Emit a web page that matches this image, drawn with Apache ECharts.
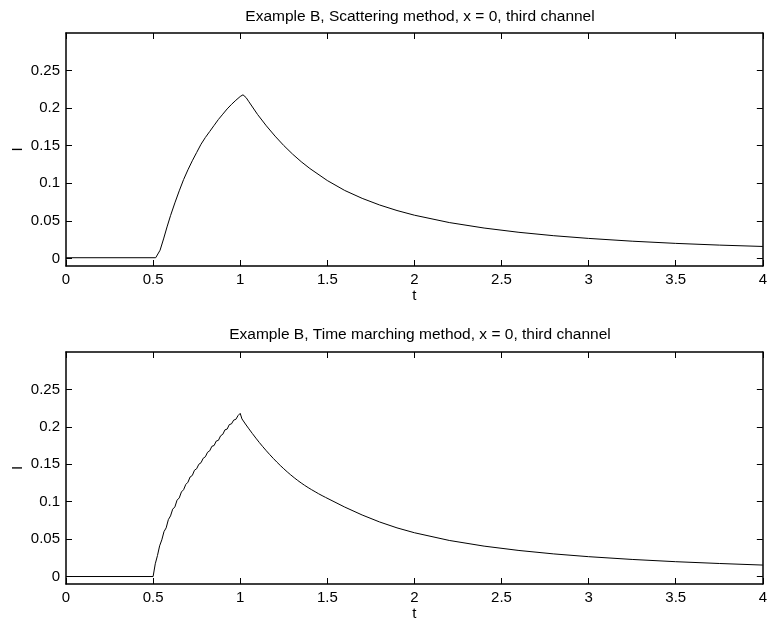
<!DOCTYPE html>
<html>
<head>
<meta charset="utf-8">
<title>Example B, third channel</title>
<script src="https://cdn.jsdelivr.net/npm/echarts@6/dist/echarts.min.js"></script>
<style>
  html, body { margin: 0; padding: 0; background: #fff; }
  #chart { width: 770px; height: 628px; }
</style>
</head>
<body>
<div id="chart"></div>
<script>
// Panel titles
const titles = [
  'Example B, Scattering method, x = 0, third channel',
  'Example B, Time marching method, x = 0, third channel'
];

// Axis ticks
const xTicks = [0, 0.5, 1, 1.5, 2, 2.5, 3, 3.5, 4];
const yTicks = [0, 0.05, 0.1, 0.15, 0.2, 0.25];

// Scattering method: time samples and current I
const tScatter = [0, 0.515, 0.525, 0.54, 0.56, 0.58, 0.6, 0.625, 0.65, 0.675, 0.7, 0.725, 0.75, 0.775, 0.8, 0.825, 0.85, 0.875, 0.9, 0.925, 0.95, 0.975, 1.0, 1.008, 1.016, 1.024, 1.034, 1.05, 1.1, 1.15, 1.2, 1.25, 1.3, 1.35, 1.4, 1.5, 1.6, 1.7, 1.8, 1.9, 2.0, 2.2, 2.4, 2.6, 2.8, 3.0, 3.25, 3.5, 3.75, 4.0];
const iScatter = [0.001, 0.001, 0.003, 0.011, 0.026, 0.042, 0.057, 0.074, 0.090, 0.105, 0.118, 0.130, 0.141, 0.152, 0.161, 0.169, 0.177, 0.185, 0.192, 0.199, 0.205, 0.2105, 0.2155, 0.2170, 0.2178, 0.2172, 0.2140, 0.2085, 0.1915, 0.1765, 0.1628, 0.1503, 0.1390, 0.1288, 0.1197, 0.1037, 0.0905, 0.0800, 0.0712, 0.0638, 0.0576, 0.0478, 0.0405, 0.0348, 0.0303, 0.0267, 0.0230, 0.0201, 0.0178, 0.0160];

// Time marching method: time samples and current I (small numerical ripple near the peak)
const tMarch = [0, 0.5, 0.5125, 0.525, 0.5375, 0.55, 0.5625, 0.575, 0.5875, 0.6, 0.6125, 0.625, 0.6375, 0.65, 0.6625, 0.675, 0.6875, 0.7, 0.7125, 0.725, 0.7375, 0.75, 0.7625, 0.775, 0.7875, 0.8, 0.8125, 0.825, 0.8375, 0.85, 0.8625, 0.875, 0.8875, 0.9, 0.9125, 0.925, 0.9375, 0.95, 0.9625, 0.975, 0.9875, 1.0,
  1.01, 1.02, 1.03, 1.04, 1.05, 1.06, 1.07, 1.08, 1.09, 1.10, 1.11, 1.12, 1.13, 1.14, 1.15, 1.16, 1.17, 1.18, 1.19, 1.20, 1.21, 1.22, 1.23, 1.24, 1.25, 1.26, 1.27, 1.28, 1.29, 1.30, 1.31, 1.32, 1.33, 1.34, 1.35, 1.36, 1.37, 1.38, 1.39, 1.40, 1.41, 1.42, 1.43, 1.44, 1.45, 1.46, 1.47, 1.48, 1.49,
  1.5, 1.6, 1.7, 1.8, 1.9, 2.0, 2.2, 2.4, 2.6, 2.8, 3.0, 3.25, 3.5, 3.75, 4.0];
const iMarch = [0, 0, 0.017, 0.028, 0.041, 0.049, 0.060, 0.065, 0.076, 0.081, 0.090, 0.093, 0.102, 0.105, 0.113, 0.116, 0.123, 0.126, 0.133, 0.135, 0.142, 0.144, 0.150, 0.152, 0.158, 0.160, 0.166, 0.168, 0.174, 0.175, 0.181, 0.182, 0.188, 0.190, 0.196, 0.197, 0.203, 0.204, 0.209, 0.210, 0.215, 0.218,
  0.2106, 0.2112, 0.2038, 0.2044, 0.1973, 0.1980, 0.1910, 0.1916, 0.1849, 0.1856, 0.1790, 0.1796, 0.1734, 0.1740, 0.1680, 0.1684, 0.1628, 0.1632, 0.1578, 0.1580, 0.1530, 0.1532, 0.1484, 0.1484, 0.1440, 0.1440, 0.1398, 0.1396, 0.1358, 0.1356, 0.1320, 0.1316, 0.1284, 0.1280, 0.1250, 0.1244, 0.1218, 0.1212, 0.1188, 0.1180, 0.1160, 0.1151, 0.1133, 0.1122, 0.1106, 0.1096, 0.1081, 0.1070, 0.1057,
  0.1046, 0.0928, 0.0822, 0.0729, 0.0650, 0.0585, 0.0482, 0.0406, 0.0348, 0.0302, 0.0265, 0.0228, 0.0198, 0.0174, 0.0153];

const FONT = 'Liberation Sans, Arial, Helvetica, sans-serif';
const INK = '#000';

const pairs = (ts, vs) => ts.map((t, i) => [t, vs[i]]);

const grids = [
  { left: 66, right: 7, top: 33, height: 233 },
  { left: 66, right: 7, top: 352, height: 232 }
];

const boxLine = { show: true, onZero: false, lineStyle: { color: INK, width: 1.5 } };
const inTick = (vals) => ({ show: true, inside: true, length: 6, customValues: vals, lineStyle: { color: INK, width: 1 } });
const labelFont = { color: INK, fontFamily: FONT, fontSize: 15 };

const xAxes = [];
const yAxes = [];
grids.forEach((g, k) => {
  // bottom axis with labels
  xAxes.push({
    gridIndex: k, type: 'value', position: 'bottom', min: 0, max: 4,
    axisLine: boxLine, axisTick: inTick(xTicks),
    axisLabel: Object.assign({ customValues: xTicks, margin: 6 }, labelFont),
    splitLine: { show: false },
    name: 't', nameLocation: 'middle', nameGap: 15,
    nameTextStyle: labelFont
  });
  // top frame edge
  xAxes.push({
    gridIndex: k, type: 'value', position: 'top', min: 0, max: 4,
    axisLine: boxLine, axisTick: inTick(xTicks),
    axisLabel: { show: false }, splitLine: { show: false }
  });
  // left axis with labels
  yAxes.push({
    gridIndex: k, type: 'value', position: 'left', min: -0.01, max: 0.3,
    axisLine: boxLine, axisTick: inTick(yTicks),
    axisLabel: Object.assign({ customValues: yTicks, margin: 6 }, labelFont),
    splitLine: { show: false },
    name: 'I', nameLocation: 'middle', nameGap: 41, nameRotate: 90,
    nameMoveOverlap: false,
    nameTextStyle: labelFont
  });
  // right frame edge
  yAxes.push({
    gridIndex: k, type: 'value', position: 'right', min: -0.01, max: 0.3,
    axisLine: boxLine, axisTick: inTick(yTicks),
    axisLabel: { show: false }, splitLine: { show: false }
  });
});

const chart = echarts.init(document.getElementById('chart'), null, { renderer: 'canvas' });
chart.setOption({
  animation: false,
  backgroundColor: '#fff',
  title: [
    { text: titles[0], left: 415, top: 4, textAlign: 'center',
      textStyle: { color: INK, fontFamily: FONT, fontSize: 15.5, fontWeight: 'normal' } },
    { text: titles[1], left: 415, top: 322, textAlign: 'center',
      textStyle: { color: INK, fontFamily: FONT, fontSize: 15.5, fontWeight: 'normal' } }
  ],
  grid: grids,
  xAxis: xAxes,
  yAxis: yAxes,
  series: [
    { type: 'line', xAxisIndex: 0, yAxisIndex: 0, data: pairs(tScatter, iScatter),
      showSymbol: false, smooth: false, lineStyle: { color: INK, width: 1 } },
    { type: 'line', xAxisIndex: 2, yAxisIndex: 2, data: pairs(tMarch, iMarch),
      showSymbol: false, smooth: false, lineStyle: { color: INK, width: 1 } }
  ]
});
</script>
</body>
</html>
